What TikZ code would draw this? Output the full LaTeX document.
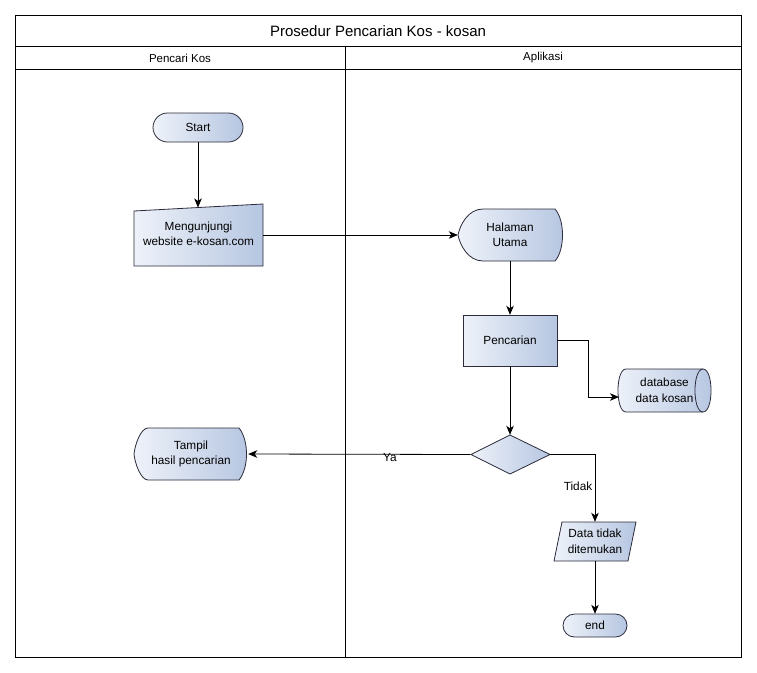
\documentclass[tikz,border=0pt]{standalone}
\usepackage{fontspec}
\setmainfont{Liberation Sans}
\usetikzlibrary{arrows.meta,shapes.geometric,calc,backgrounds}
\definecolor{gA}{HTML}{EEF2F9}
\definecolor{gB}{HTML}{B6C6E1}
\definecolor{edgec}{HTML}{2B2B3B}
\tikzset{
  shp/.style={draw=edgec, line width=0.8pt, left color=gA, right color=gB},
  box/.style={inner sep=0pt, align=center, font=\fontsize{11.8}{15.5}\selectfont},
  arr/.style={draw=black, line width=0.8pt, -{Stealth[length=9pt,width=7.5pt,inset=2.5pt]}},
  lane/.style={draw=black, line width=0.9pt},
  lbl/.style={inner sep=1pt, font=\fontsize{11.8}{12}\selectfont}
}
\begin{document}
\begin{tikzpicture}[x=1pt,y=-1pt]
\useasboundingbox (0,0) rectangle (757,672);
% swimlane frame
\draw[lane] (15,15) rectangle (741,657);
\draw[lane] (15,46) -- (741,46);
\draw[lane] (15,69) -- (741,69);
\draw[lane] (345,46) -- (345,657);
\node[font=\fontsize{15}{16}\selectfont] (title) at (378,31) {Prosedur Pencarian Kos - kosan};
\node[font=\fontsize{11.5}{12}\selectfont] (lane1) at (180,58) {Pencari Kos};
\node[font=\fontsize{11.5}{12}\selectfont] (lane2) at (543,58) {Aplikasi};

% nodes (text + anchors)
\node[box, minimum width=90pt, minimum height=29pt] (start) at (198,127.5) {Start};
\node[box, minimum width=129pt, minimum height=62pt] (mi) at (198.5,235) {\raisebox{-3pt}{\begin{tabular}{@{}c@{}}Mengunjungi\\website e-kosan.com\end{tabular}}};
\node[box, minimum width=104pt, minimum height=52pt] (hu) at (510,235) {Halaman\\Utama};
\node[box, minimum width=94pt, minimum height=51pt] (pc) at (510,340.5) {Pencarian};
\node[box, minimum width=93pt, minimum height=43pt] (db) at (664.5,390.5) {database\\data kosan};
\node[box, minimum width=79pt, minimum height=39pt] (dm) at (510,454.5) {};
\node[box, minimum width=114pt, minimum height=52pt] (tp) at (191,454) {Tampil\\hasil pencarian};
\node[box, minimum width=82pt, minimum height=39pt] (dt) at (595,541.5) {Data tidak\\ditemukan};
\node[box, minimum width=64pt, minimum height=23pt] (en) at (595,625.5) {end};
\coordinate (mitop) at (198,207.5);
\coordinate (dbin) at (619,397);

\begin{scope}[on background layer]
\fill[white] (0,0) rectangle (757,672);
% Start terminator
\shade[shp, rounded corners=14.5pt] (153,113) rectangle (243,142);
% manual input
\shade[shp] (134,266) -- (263,266) -- (263,204) -- (134,211) -- cycle;
% display: Halaman Utama
\shade[shp] (483,209) -- (555,209) .. controls (565,220) and (565,250) .. (555,261)
  -- (483,261) .. controls (468,261) and (460,245) .. (458,235)
  .. controls (460,225) and (468,209) .. (483,209) -- cycle;
% process
\shade[shp] (463,315) rectangle (557,366);
% storage cylinder
\shade[shp] (626,369) -- (703,369) .. controls (713.7,369) and (713.7,412) .. (703,412)
  -- (626,412) .. controls (615.3,412) and (615.3,369) .. (626,369) -- cycle;
\draw[draw=edgec, line width=0.8pt] (703,412) .. controls (692.3,412) and (692.3,369) .. (703,369);
% decision
\shade[shp] (471,454.5) -- (510,435) -- (550,454.5) -- (510,474) -- cycle;
% display: Tampil
\shade[shp] (148,428) -- (239,428) .. controls (249,440) and (249,468) .. (239,480)
  -- (148,480) .. controls (141,480) and (135,464) .. (134,454)
  .. controls (135,444) and (141,428) .. (148,428) -- cycle;
% data parallelogram
\shade[shp] (562,522) -- (636,522) -- (628,561) -- (554,561) -- cycle;
% end terminator
\shade[shp, rounded corners=11.5pt] (563,614) rectangle (627,637);
\end{scope}

% connectors
\draw[arr] (start) -- (mitop);
\draw[arr] (mi.east) -- (hu.west);
\draw[arr] (hu) -- (pc);
\draw[arr] (pc.east) -| ($(pc.east)!0.5!(dbin)$) |- (dbin);
\draw[arr] (pc) -- (dm);
\draw[arr] (dm.west) -- (tp.east);
\node[lbl] (ya) at (390,457) {Ya};
\draw[arr] (dm.east) -| (dt.north);
\node[lbl, fill=white] (tidak) at (578,486) {Tidak};
\draw[arr] (dt) -- (en);
\end{tikzpicture}
\end{document}
